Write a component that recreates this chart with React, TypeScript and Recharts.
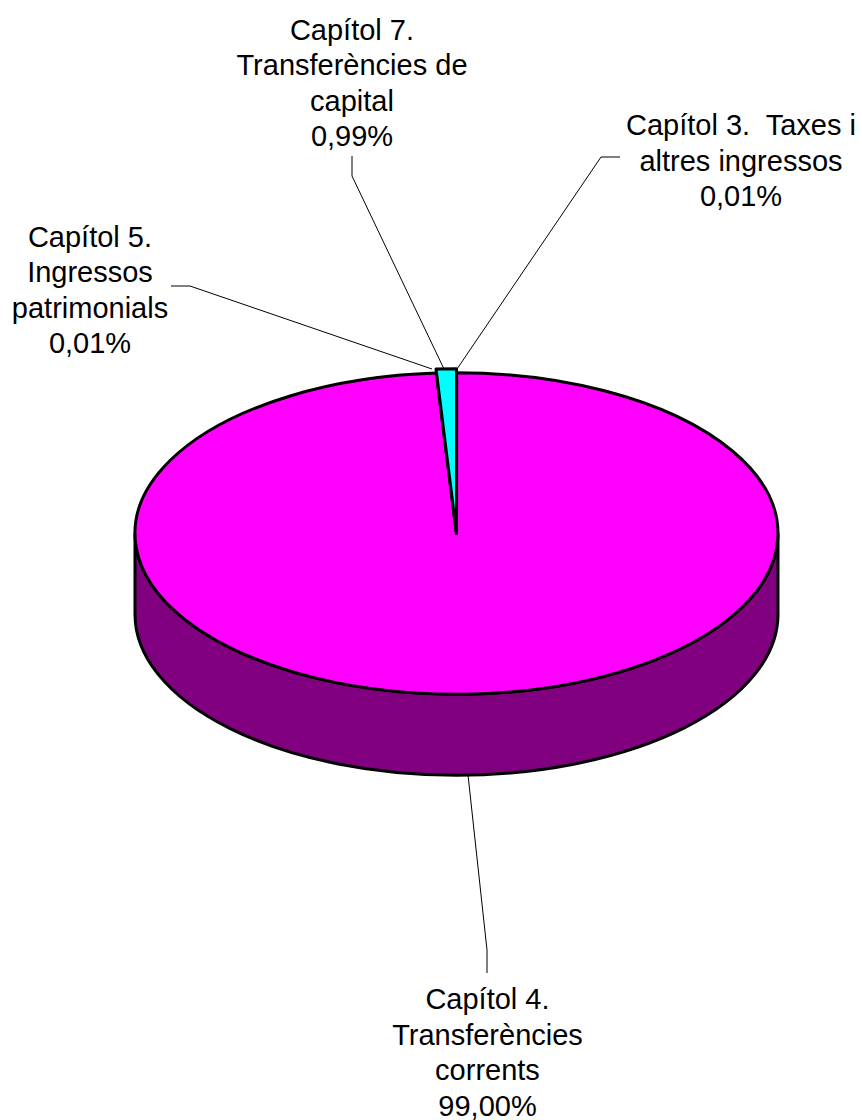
import React from "react";
import { PieChart, Pie, Cell } from "recharts";

// order as in the sheet, clockwise from 12 o'clock
const categories = [
  "Capítol 3.  Taxes i altres ingressos",
  "Capítol 4. Transferències corrents",
  "Capítol 5. Ingressos patrimonials",
  "Capítol 7. Transferències de capital",
];
const shares = [0.01, 99.0, 0.01, 0.99];
const labelLines = [
  ["Capítol 3.  Taxes i", "altres ingressos"],
  ["Capítol 4.", "Transferències", "corrents"],
  ["Capítol 5.", "Ingressos", "patrimonials"],
  ["Capítol 7.", "Transferències de", "capital"],
];
const colors = ["#9999ff", "#ff00ff", "#ffffcc", "#00ffff"];

const data = categories.map((name, i) => ({ name, value: shares[i] }));

const WIDTH = 862;
const HEIGHT = 1120;
const FONT = "Liberation Sans, Arial, sans-serif";
const SQUASH = 0.5;
const DEPTH = 81;
const WALL = "#800080";

// label block: centre x, first baseline, leader polyline
const callouts = [
  { x: 741, y: 135, leader: [[620, 157], [601, 157], [457, 369]] },
  { x: 487.5, y: 1009, leader: [[487, 973], [487, 950], [468, 775]] },
  { x: 90, y: 246.5, leader: [[171, 286], [190, 286], [432, 369]] },
  { x: 352, y: 39.5, leader: [[352, 156], [352, 176], [444, 369]] },
];

const toPoint = (cx: number, cy: number, r: number, deg: number) => {
  const a = (deg * Math.PI) / 180;
  return [cx + r * Math.cos(a), cy - r * SQUASH * Math.sin(a)];
};

// Recharts gives a round sector; flatten it and add the side wall
const TiltedSector = (props: any) => {
  const { cx, cy, outerRadius, startAngle, endAngle, fill, name } = props;
  const r = name === categories[3] ? outerRadius * 1.025 : outerRadius;
  const [x1, y1] = toPoint(cx, cy, r, startAngle);
  const [x2, y2] = toPoint(cx, cy, r, endAngle);
  const large = Math.abs(startAngle - endAngle) > 180 ? 1 : 0;
  const showWall = startAngle >= 0 && endAngle <= -180;
  return (
    <g>
      {showWall && (
        <path
          d={`M${cx - r},${cy} L${cx - r},${cy + DEPTH} A${r},${r * SQUASH} 0 0 0 ${cx + r},${cy + DEPTH} L${cx + r},${cy} A${r},${r * SQUASH} 0 0 1 ${cx - r},${cy} Z`}
          fill={WALL}
          stroke="#000"
          strokeWidth={3}
        />
      )}
      <path
        d={`M${cx},${cy} L${x1},${y1} A${r},${r * SQUASH} 0 ${large} 1 ${x2},${y2} Z`}
        fill={fill}
        stroke="#000"
        strokeWidth={3}
        strokeLinejoin="round"
      />
    </g>
  );
};

const renderLabel = (props: any) => {
  const i = props.index;
  const c = callouts[i];
  const rows = [...labelLines[i], shares[i].toFixed(2).replace(".", ",") + "%"];
  return (
    <g key={categories[i]}>
      <polyline points={c.leader.join(" ")} fill="none" stroke="#000" strokeWidth={1} />
      <text x={c.x} y={c.y} textAnchor="middle" fontFamily={FONT} fontSize={29} fill="#000" style={{ whiteSpace: "pre" }}>
        {rows.map((row, k) => (
          <tspan key={k} x={c.x} y={c.y + k * 35.5}>
            {row}
          </tspan>
        ))}
      </text>
    </g>
  );
};

export default function App() {
  return (
    <div style={{ position: "absolute", left: 0, top: 0, width: WIDTH, height: HEIGHT, background: "#fff" }}>
      <PieChart width={WIDTH} height={HEIGHT} margin={{ top: 0, right: 0, bottom: 0, left: 0 }}>
        <Pie
          data={data}
          dataKey="value"
          nameKey="name"
          cx={456.5}
          cy={533.5}
          innerRadius={0}
          outerRadius={321.5}
          startAngle={90}
          endAngle={-270}
          paddingAngle={0}
          minAngle={0}
          stroke="#000"
          shape={TiltedSector}
          label={renderLabel}
          labelLine={false}
          isAnimationActive={false}
        >
          {data.map((d, i) => (
            <Cell key={d.name} fill={colors[i]} />
          ))}
        </Pie>
      </PieChart>
    </div>
  );
}
